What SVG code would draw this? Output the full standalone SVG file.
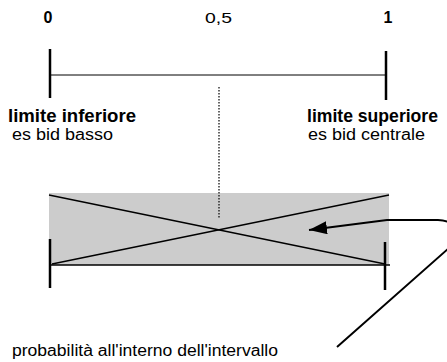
<svg xmlns="http://www.w3.org/2000/svg" width="447" height="362" viewBox="0 0 447 362">
<defs>
<style>
.t{font-family:"Liberation Sans",Arial,sans-serif;fill:#000}
.b{font-weight:bold}
.ln{stroke:#000;fill:none}
</style>
<marker id="ah" markerWidth="19" markerHeight="14" refX="18" refY="6.5" orient="auto" markerUnits="userSpaceOnUse" viewBox="0 0 19 14">
<path d="M0 0 L18 6.5 L0 13 Z" fill="#000"/>
</marker>
</defs>
<rect width="447" height="362" fill="#fff"/>
<g id="scale">
<text class="t b" x="48" y="23" font-size="16" text-anchor="middle">0</text>
<text class="t" x="205" y="23" font-size="15" textLength="27" lengthAdjust="spacingAndGlyphs">0,5</text>
<text class="t b" x="388" y="23" font-size="16" text-anchor="middle">1</text>
<line class="ln" x1="50" y1="75" x2="386" y2="75" stroke-width="1"/>
<line class="ln" x1="50" y1="49" x2="50" y2="98" stroke-width="2.5"/>
<line class="ln" x1="386" y1="51" x2="386" y2="100" stroke-width="2.5"/>
</g>
<g id="lower-limit">
<text class="t b" x="8" y="122" font-size="18" textLength="128" lengthAdjust="spacingAndGlyphs">limite inferiore</text>
<text class="t" x="12" y="140" font-size="16" textLength="101" lengthAdjust="spacingAndGlyphs">es bid basso</text>
</g>
<g id="upper-limit">
<text class="t b" x="307" y="122" font-size="18" textLength="131" lengthAdjust="spacingAndGlyphs">limite superiore</text>
<text class="t" x="308" y="140" font-size="16" textLength="117" lengthAdjust="spacingAndGlyphs">es bid centrale</text>
</g>
<g id="interval">
<rect x="49" y="193" width="340" height="72" fill="#cccccc"/>
<line class="ln" x1="49" y1="195" x2="385" y2="264" stroke-width="1.3"/>
<line class="ln" x1="52" y1="264" x2="389" y2="195" stroke-width="1.3"/>
<line class="ln" x1="49" y1="265" x2="390" y2="265" stroke-width="1.5"/>
<line class="ln" x1="50" y1="239" x2="50" y2="288" stroke-width="2.5"/>
<line class="ln" x1="385" y1="242" x2="385" y2="290" stroke-width="2.5"/>
</g>
<g id="caption">
<text class="t" x="12" y="356" font-size="16" textLength="266" lengthAdjust="spacingAndGlyphs">probabilità all'interno dell'intervallo</text>
</g>
<g id="connectors">
<line class="ln" x1="219" y1="87" x2="219" y2="218" stroke-width="1.2" stroke-dasharray="1.5 1.5"/>
<path class="ln" d="M337 347 L449 248 C462 234 458 221 438 220 L387 220 L309 230" stroke-width="2" marker-end="url(#ah)"/>
</g>
</svg>
